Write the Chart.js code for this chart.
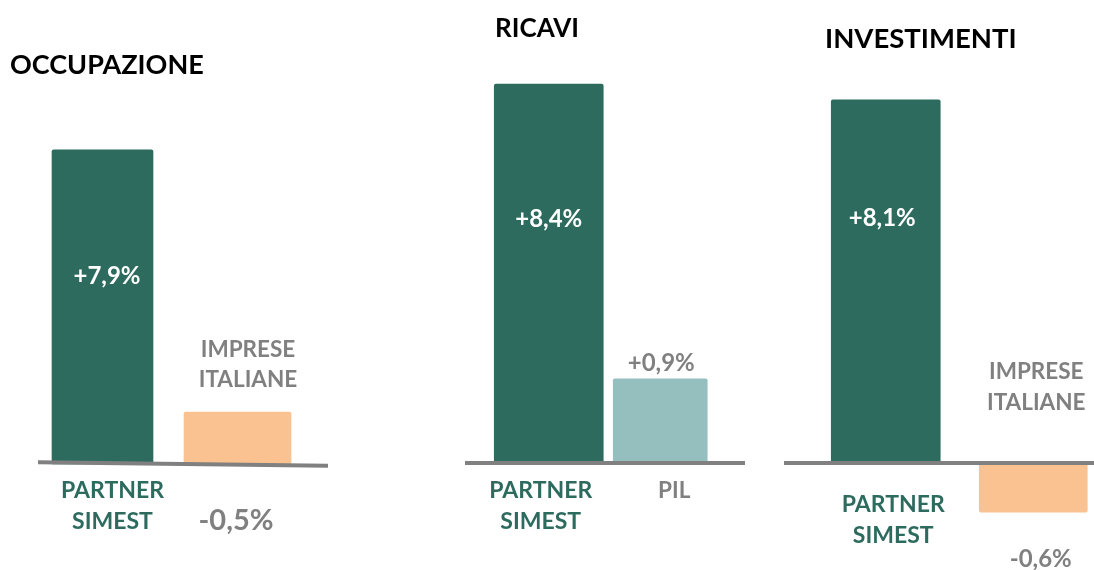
<!DOCTYPE html>
<html>
<head>
<meta charset="utf-8">
<script src="https://cdn.jsdelivr.net/npm/chart.js@4.4.1/dist/chart.umd.min.js"></script>
<style>
    html, body { margin: 0; padding: 0; background: #fff; }
    body { position: relative; width: 1094px; height: 570px; overflow: hidden; }
    .panel { position: absolute; top: 0; height: 570px; }
</style>
</head>
<body>
<div class="panel" style="left:0;width:360px"><canvas id="occupazione"></canvas></div>
<div class="panel" style="left:440px;width:330px"><canvas id="ricavi"></canvas></div>
<div class="panel" style="left:760px;width:360px"><canvas id="investimenti"></canvas></div>

<script>
// bar lengths are the ones drawn in the source graphic (it is not to scale),
// the printed percentages are kept apart
const occupazioneCategories = [['PARTNER', 'SIMEST'], ['IMPRESE', 'ITALIANE']]
const occupazioneLabels = ['+7,9%', '-0,5%']
const occupazioneBars = [7.9, 1.3]

const ricaviCategories = [['PARTNER', 'SIMEST'], ['PIL']]
const ricaviLabels = ['+8,4%', '+0,9%']
const ricaviBars = [8.4, 1.85]

const investimentiCategories = [['PARTNER', 'SIMEST'], ['IMPRESE', 'ITALIANE']]
const investimentiLabels = ['+8,1%', '-0,6%']
const investimentiBars = [8.1, -1.1]

const GREEN = '#2e6b5f'
const ORANGE = '#f9c290'
const TEAL = '#95bfbe'
const GRAY = '#808080'
const FONT = 'Lato, "Open Sans", sans-serif'

// draws text so that the middle of the capitals sits on y
function drawLines(ctx, lines, x, y, size, color, lineHeight, align) {
    ctx.save()
    ctx.font = `bold ${size}px ${FONT}`
    ctx.fillStyle = color
    ctx.textAlign = align || 'center'
    ctx.textBaseline = 'alphabetic'
    lines.forEach((line, i) => {
        ctx.fillText(line, x, y + i * (lineHeight || 0) + size * 0.36)
    })
    ctx.restore()
}

const panelText = {
    id: 'panelText',
    afterDatasetsDraw(chart, args, opts) {
        const ctx = chart.ctx
        const base = chart.scales.y.getPixelForValue(0)

        ctx.save()
        ctx.strokeStyle = GRAY
        ctx.lineWidth = 4
        ctx.beginPath()
        ctx.moveTo(opts.axisLine[0], base + opts.tilt[0])
        ctx.lineTo(opts.axisLine[1], base + opts.tilt[1])
        ctx.stroke()
        ctx.restore()

        drawLines(ctx, [opts.title], opts.titlePos[0], opts.titlePos[1], opts.titleSize, '#000', 0, 'left')

        opts.marks.forEach((mark, i) => {
            const bar = chart.getDatasetMeta(i).data[i]
            const ref = {
                top: Math.min(bar.y, bar.base),
                bottom: Math.max(bar.y, bar.base),
                base: base,
            }
            const v = mark.value
            drawLines(ctx, [opts.labels[i]], bar.x + v.dx, ref[v.ref] + v.dy, v.size, v.color, 0)
            const c = mark.category
            drawLines(ctx, opts.categories[i], bar.x + c.dx, ref[c.ref] + c.dy, c.size, c.color, c.lineHeight)
        })
    }
}

function createPanel(id, bars, colors, widths, setup) {
    const datasets = bars.map((value, i) => ({
        data: bars.map((v, j) => (j === i ? v : null)),
        backgroundColor: colors[i],
        barThickness: widths[i],
        borderRadius: 2,
        borderSkipped: 'start',
    }))

    return new Chart(document.getElementById(id), {
        type: 'bar',
        data: { labels: bars.map((v, i) => i), datasets: datasets },
        options: {
            responsive: true,
            maintainAspectRatio: false,
            animation: false,
            events: [],
            layout: { padding: { left: setup.padding[0], right: setup.padding[1], top: 0, bottom: 0 } },
            datasets: { bar: { grouped: false } },
            scales: {
                x: { display: false },
                y: { display: false, min: setup.yRange[0], max: setup.yRange[1] },
            },
            plugins: {
                legend: { display: false },
                tooltip: { enabled: false },
                panelText: setup.text,
            },
        },
        plugins: [panelText],
    })
}

createPanel('occupazione', occupazioneBars, [GREEN, ORANGE], [101, 107], {
    padding: [35, 55],
    yRange: [-2.67, 11.67],
    text: {
        title: 'OCCUPAZIONE', titlePos: [10, 64], titleSize: 27,
        axisLine: [38, 328], tilt: [-1.5, 2],
        labels: occupazioneLabels,
        categories: occupazioneCategories,
        marks: [
            { value: { ref: 'top', dx: 4.5, dy: 126, size: 24, color: '#fff' },
              category: { ref: 'base', dx: 10, dy: 26, size: 23, color: GREEN, lineHeight: 31 } },
            { value: { ref: 'base', dx: -1.5, dy: 56, size: 29, color: GRAY },
              category: { ref: 'base', dx: 10.5, dy: -115, size: 22.5, color: GRAY, lineHeight: 30 } },
        ],
    },
})

createPanel('ricavi', ricaviBars, [GREEN, TEAL], [109, 94], {
    padding: [53, 54],
    yRange: [-2.40, 10.27],
    text: {
        title: 'RICAVI', titlePos: [55, 28], titleSize: 26,
        axisLine: [25, 305], tilt: [1, 1],
        labels: ricaviLabels,
        categories: ricaviCategories,
        marks: [
            { value: { ref: 'top', dx: 0, dy: 134, size: 24, color: '#fff' },
              category: { ref: 'base', dx: -8, dy: 28, size: 23, color: GREEN, lineHeight: 31 } },
            { value: { ref: 'top', dx: 1, dy: -16, size: 24, color: GRAY },
              category: { ref: 'base', dx: 14, dy: 28, size: 22.5, color: GRAY, lineHeight: 30 } },
        ],
    },
})

createPanel('investimenti', investimentiBars, [GREEN, ORANGE], [109, 108], {
    padding: [52, 13],
    yRange: [-2.39, 10.33],
    text: {
        title: 'INVESTIMENTI', titlePos: [65, 38], titleSize: 27.5,
        axisLine: [24, 360], tilt: [0, 0],
        labels: investimentiLabels,
        categories: investimentiCategories,
        marks: [
            { value: { ref: 'top', dx: -3.5, dy: 117, size: 24, color: '#fff' },
              category: { ref: 'base', dx: 7.5, dy: 41, size: 23, color: GREEN, lineHeight: 31 } },
            { value: { ref: 'base', dx: 7.5, dy: 95, size: 24, color: GRAY },
              category: { ref: 'base', dx: 3, dy: -92, size: 22.5, color: GRAY, lineHeight: 31 } },
        ],
    },
})
</script>
</body>
</html>
